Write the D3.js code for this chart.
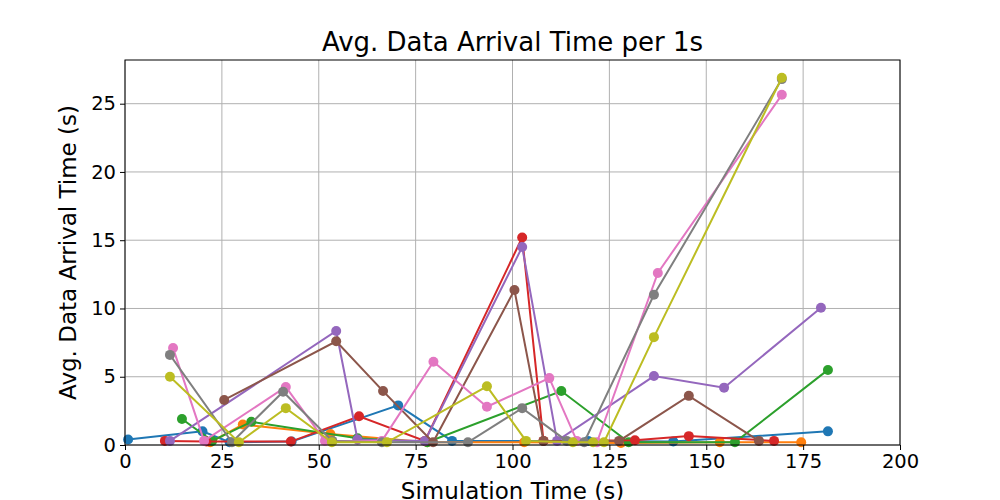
<!DOCTYPE html>
<html>
<head>
<meta charset="utf-8">
<script src="https://cdn.jsdelivr.net/npm/d3@7"></script>
<style>
  body { margin: 0; background: #fff; }
  text { font-family: "DejaVu Sans", sans-serif; }
</style>
</head>
<body>
<div id="chart"></div>
<script>
const WIDTH = 1000
const HEIGHT = 500
const margin = { top: 60, right: 100, bottom: 55, left: 125 }

// one array of [time, value] per node
const sBlue = [[0.8,0.4],[20,1.0],[27,0.2],[43,0.25],[70.5,2.9],[84.4,0.3],[119.5,0.3],[141.5,0.25],[181.4,1.0]]
const sOrange = [[22,0.2],[30.4,1.5],[53,0.8],[78,0.2],[103,0.2],[128,0.15],[153.5,0.2],[174.5,0.2]]
const sGreen = [[14.7,1.9],[22.5,0.3],[32.6,1.7],[60,0.5],[78,0.2],[112.6,3.95],[130,0.2],[157.4,0.2],[181.4,5.5]]
const sRed = [[10.3,0.3],[21,0.25],[42.8,0.25],[60.4,2.1],[77.4,0.3],[102.5,15.2],[108,0.3],[131.6,0.35],[145.5,0.65],[167.5,0.3]]
const sPurple = [[11.6,0.3],[54.5,8.35],[60,0.4],[77.4,0.3],[102.5,14.5],[111.5,0.3],[136.5,5.05],[154.6,4.2],[179.6,10.05]]
const sBrown = [[25.6,3.3],[54.5,7.6],[66.6,3.95],[79.5,0.2],[100.5,11.35],[108,0.3],[127.5,0.3],[145.5,3.6],[163.6,0.3]]
const sPink = [[12.4,7.1],[20.4,0.3],[41.5,4.25],[51.6,0.3],[66.3,0.3],[79.6,6.1],[93.4,2.8],[109.5,4.9],[116.6,0.3],[121.8,0.2],[137.5,12.6],[169.5,25.65]]
const sGray = [[11.6,6.6],[27.6,0.2],[40.8,3.9],[53.5,0.3],[66.3,0.2],[88.5,0.2],[102.5,2.7],[114,0.3],[118.5,0.2],[136.5,11],[169.5,26.8]]
const sOlive = [[11.6,5.0],[29.4,0.2],[41.5,2.7],[53.4,0.2],[67.6,0.2],[93.4,4.3],[103.5,0.3],[115.6,0.2],[120.8,0.2],[123.6,0.2],[136.5,7.9],[169.5,26.9]]

const series = [sBlue, sOrange, sGreen, sRed, sPurple, sBrown, sPink, sGray, sOlive]
const colors = ["#1f77b4","#ff7f0e","#2ca02c","#d62728","#9467bd","#8c564b","#e377c2","#7f7f7f","#bcbd22"]

const xTicks = [0, 25, 50, 75, 100, 125, 150, 175, 200]
const yTicks = [0, 5, 10, 15, 20, 25]

const svg = d3.select("#chart").append("svg")
    .attr("width", WIDTH)
    .attr("height", HEIGHT)

const w = WIDTH - margin.left - margin.right
const h = HEIGHT - margin.top - margin.bottom

const x = d3.scaleLinear().domain([0, 200]).range([0, w])
const y = d3.scaleLinear().domain([0, 28.2]).range([h, 0])

const g = svg.append("g").attr("transform", `translate(${margin.left},${margin.top})`)

// grid
g.append("g").selectAll("line").data(xTicks).enter().append("line")
    .attr("x1", d => x(d)).attr("x2", d => x(d)).attr("y1", 0).attr("y2", h)
    .attr("stroke", "#b0b0b0").attr("stroke-width", 1)
g.append("g").selectAll("line").data(yTicks).enter().append("line")
    .attr("y1", d => y(d)).attr("y2", d => y(d)).attr("x1", 0).attr("x2", w)
    .attr("stroke", "#b0b0b0").attr("stroke-width", 1)

const line = d3.line().x(d => x(d[0])).y(d => y(d[1]))

series.forEach((s, i) => {
    g.append("path").datum(s)
        .attr("d", line)
        .attr("fill", "none")
        .attr("stroke", colors[i])
        .attr("stroke-width", 2)
    g.append("g").selectAll("circle").data(s).enter().append("circle")
        .attr("cx", d => x(d[0]))
        .attr("cy", d => y(d[1]))
        .attr("r", 5)
        .attr("fill", colors[i])
})

// axes
const xAxis = g.append("g").attr("transform", `translate(0,${h})`)
    .call(d3.axisBottom(x).tickValues(xTicks).tickSize(5).tickPadding(4))
const yAxis = g.append("g")
    .call(d3.axisLeft(y).tickValues(yTicks).tickSize(5).tickPadding(4))
;[xAxis, yAxis].forEach(a => {
    a.selectAll("text").attr("font-size", 19.5).attr("fill", "#000").attr("font-family", "DejaVu Sans")
    a.selectAll("line").attr("stroke", "#000")
    a.select(".domain").remove()
})

g.append("rect").attr("width", w).attr("height", h)
    .attr("fill", "none").attr("stroke", "#000").attr("stroke-width", 1)

svg.append("text").attr("x", margin.left + w / 2).attr("y", 51)
    .attr("text-anchor", "middle").attr("font-size", 26)
    .text("Avg. Data Arrival Time per 1s")

svg.append("text").attr("x", margin.left + w / 2).attr("y", 499)
    .attr("text-anchor", "middle").attr("font-size", 23)
    .text("Simulation Time (s)")

svg.append("text")
    .attr("transform", `translate(76,${margin.top + h / 2}) rotate(-90)`)
    .attr("text-anchor", "middle").attr("font-size", 23)
    .text("Avg. Data Arrival Time (s)")
</script>
</body>
</html>
